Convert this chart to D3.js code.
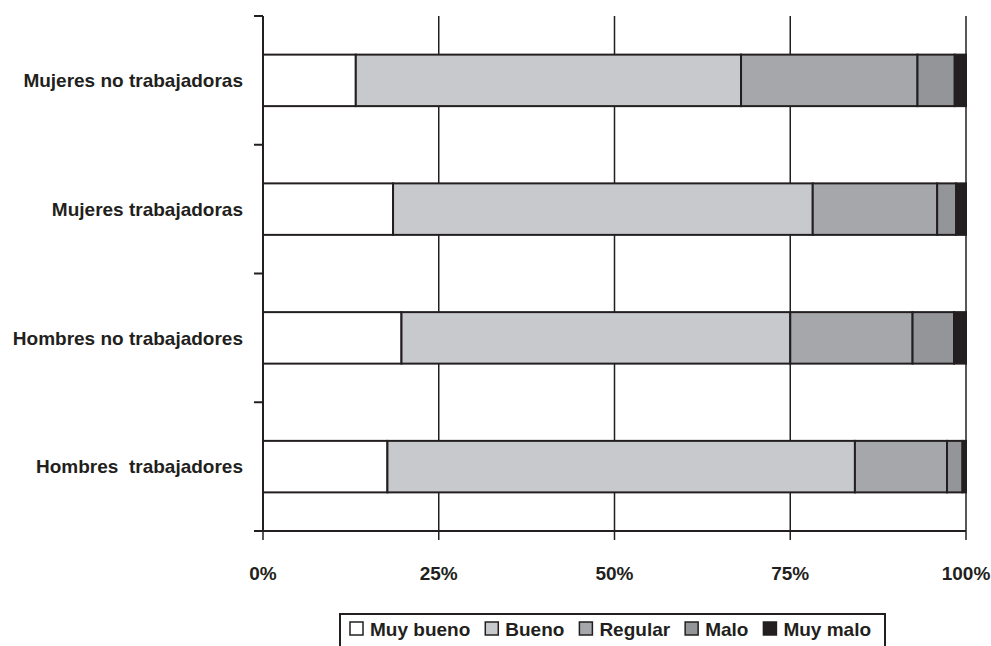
<!DOCTYPE html>
<html><head><meta charset="utf-8">
<script src="https://cdn.jsdelivr.net/npm/d3@7"></script>
<style>
html,body{margin:0;padding:0;background:#fff;}
svg{display:block;}
text{font-family:"Liberation Sans",Arial,Helvetica,sans-serif;font-weight:bold;fill:#231f20;}
</style></head>
<body>
<svg id="chart" width="991" height="646"></svg>
<script>
const categories = ["Mujeres no trabajadoras", "Mujeres trabajadoras", "Hombres no trabajadores", "Hombres  trabajadores"];
const seriesNames = ["Muy bueno", "Bueno", "Regular", "Malo", "Muy malo"];
const muyBueno = [13.2, 18.5, 19.7, 17.7];
const bueno    = [54.8, 59.7, 55.3, 66.5];
const regular  = [25.1, 17.7, 17.4, 13.1];
const malo     = [5.3, 2.7, 5.9, 2.2];
const muyMalo  = [1.6, 1.4, 1.7, 0.5];
const tickValues = [0, 25, 50, 75, 100];
const tickLabels = ["0%", "25%", "50%", "75%", "100%"];
const colors = ["#ffffff", "#c8c9cc", "#a6a7aa", "#939598", "#231f20"];

const seriesValues = [muyBueno, bueno, regular, malo, muyMalo];
const rows = categories.map((c, i) => {
  const r = {cat: c};
  seriesNames.forEach((s, j) => r[s] = seriesValues[j][i]);
  return r;
});

const svg = d3.select("#chart");
const ink = "#231f20";
const pLeft = 263, pRight = 966, pTop = 16, pBottom = 531;

const x = d3.scaleLinear().domain([0, 100]).range([pLeft, pRight]);
const y = d3.scaleBand().domain(categories).range([pTop, pBottom]).paddingInner(0.6).paddingOuter(0.3);
const yEdge = d3.scaleLinear().domain([0, categories.length]).range([pTop, pBottom]);

// gridlines
svg.append("g").selectAll("line").data(tickValues.slice(1)).join("line")
  .attr("x1", d => x(d)).attr("x2", d => x(d))
  .attr("y1", pTop).attr("y2", pBottom)
  .attr("stroke", ink).attr("stroke-width", 1.5);

// stacked bars
const stacked = d3.stack().keys(seriesNames)(rows);
svg.append("g").selectAll("g").data(stacked).join("g")
  .attr("fill", (d, i) => colors[i])
  .selectAll("rect").data(d => d).join("rect")
  .attr("x", d => x(d[0])).attr("width", d => x(d[1]) - x(d[0]))
  .attr("y", d => y(d.data.cat)).attr("height", y.bandwidth())
  .attr("stroke", ink).attr("stroke-width", 2);

// y axis
svg.append("line").attr("x1", pLeft).attr("x2", pLeft).attr("y1", pTop).attr("y2", pBottom)
  .attr("stroke", ink).attr("stroke-width", 2);
svg.append("g").selectAll("line").data(d3.range(categories.length + 1)).join("line")
  .attr("x1", pLeft - 9).attr("x2", pLeft)
  .attr("y1", d => yEdge(d)).attr("y2", d => yEdge(d))
  .attr("stroke", ink).attr("stroke-width", 2);
svg.append("g").selectAll("text").data(categories).join("text")
  .attr("x", 243).attr("y", d => y(d) + y.bandwidth() / 2)
  .attr("dy", "0.35em").attr("text-anchor", "end")
  .attr("font-size", 19).style("white-space", "pre")
  .text(d => d);

// x axis
svg.append("line").attr("x1", pLeft - 9).attr("x2", pRight).attr("y1", pBottom).attr("y2", pBottom)
  .attr("stroke", ink).attr("stroke-width", 2);
svg.append("g").selectAll("line").data(tickValues).join("line")
  .attr("x1", d => x(d)).attr("x2", d => x(d))
  .attr("y1", pBottom).attr("y2", pBottom + 9)
  .attr("stroke", ink).attr("stroke-width", 1.5);
svg.append("g").selectAll("text").data(tickValues).join("text")
  .attr("x", d => x(d)).attr("y", 580)
  .attr("text-anchor", "middle").attr("font-size", 19)
  .text((d, i) => tickLabels[i]);

// legend
const lg = svg.append("g");
lg.append("rect").attr("x", 340).attr("y", 614).attr("width", 545).attr("height", 60)
  .attr("fill", "#fff").attr("stroke", ink).attr("stroke-width", 2);
let lx = 350;
seriesNames.forEach((s, i) => {
  lg.append("rect").attr("x", lx).attr("y", 622).attr("width", 13).attr("height", 13)
    .attr("fill", colors[i]).attr("stroke", ink).attr("stroke-width", 1.5);
  const t = lg.append("text").attr("x", lx + 20).attr("y", 636).attr("font-size", 19).text(s);
  lx = lx + 20 + t.node().getComputedTextLength() + 15;
});
</script>
</body></html>
